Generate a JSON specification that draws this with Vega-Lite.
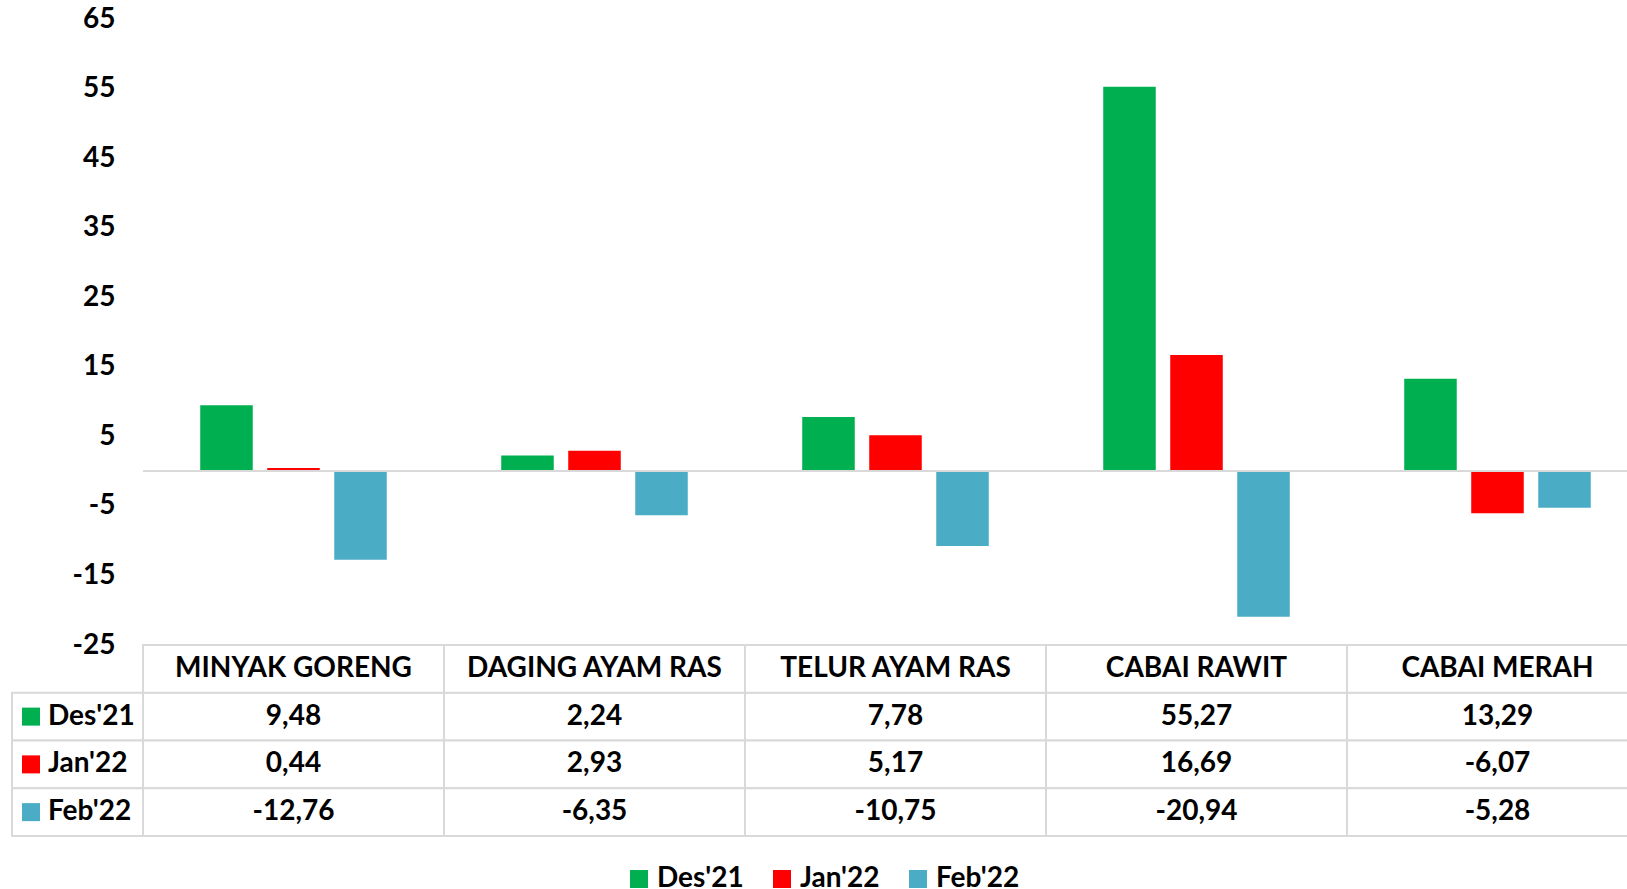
{
  "$schema": "https://vega.github.io/schema/vega-lite/v6.json",
  "width": 1484,
  "height": 626,
  "autosize": {"type": "none"},
  "padding": {"left": 143, "top": 19, "right": 0, "bottom": 244},
  "config": {
    "view": {"stroke": null},
    "font": "Lato",
    "locale": {"number": {"decimal": ",", "thousands": ".", "grouping": [3], "currency": ["", ""], "minus": "-"}}
  },
  "datasets": {
    "v": [
      {"category": "MINYAK GORENG", "series": "Des'21", "value": 9.48},
      {"category": "MINYAK GORENG", "series": "Jan'22", "value": 0.44},
      {"category": "MINYAK GORENG", "series": "Feb'22", "value": -12.76},
      {"category": "DAGING AYAM RAS", "series": "Des'21", "value": 2.24},
      {"category": "DAGING AYAM RAS", "series": "Jan'22", "value": 2.93},
      {"category": "DAGING AYAM RAS", "series": "Feb'22", "value": -6.35},
      {"category": "TELUR AYAM RAS", "series": "Des'21", "value": 7.78},
      {"category": "TELUR AYAM RAS", "series": "Jan'22", "value": 5.17},
      {"category": "TELUR AYAM RAS", "series": "Feb'22", "value": -10.75},
      {"category": "CABAI RAWIT", "series": "Des'21", "value": 55.27},
      {"category": "CABAI RAWIT", "series": "Jan'22", "value": 16.69},
      {"category": "CABAI RAWIT", "series": "Feb'22", "value": -20.94},
      {"category": "CABAI MERAH", "series": "Des'21", "value": 13.29},
      {"category": "CABAI MERAH", "series": "Jan'22", "value": -6.07},
      {"category": "CABAI MERAH", "series": "Feb'22", "value": -5.28}
    ],
    "s": [{"series": "Des'21"}, {"series": "Jan'22"}, {"series": "Feb'22"}]
  },
  "resolve": {"scale": {"x": "independent", "y": "independent"}},
  "layer": [
    {
      "data": {"name": "v"},
      "layer": [
        {
          "mark": {"type": "bar"},
          "encoding": {
            "x": {"field": "category", "type": "nominal", "sort": null,
              "scale": {"domain": ["MINYAK GORENG", "DAGING AYAM RAS", "TELUR AYAM RAS", "CABAI RAWIT", "CABAI MERAH"], "range": [0, 1505], "paddingInner": 0, "paddingOuter": 0},
              "axis": null},
            "xOffset": {"field": "series", "type": "nominal", "sort": null,
              "scale": {"domain": ["Des'21", "Jan'22", "Feb'22"], "paddingInner": 0.216, "paddingOuter": 0.854}},
            "y": {"field": "value", "type": "quantitative",
              "scale": {"domain": [-25, 65], "nice": false, "zero": false},
              "axis": {"values": [-25, -15, -5, 5, 15, 25, 35, 45, 55, 65], "title": null, "domain": false, "ticks": false, "grid": false,
                "labelFont": "Lato", "labelFontSize": 28, "labelFontWeight": "bold", "labelColor": "black", "labelPadding": 28, "labelFlush": false}},
            "color": {"field": "series", "type": "nominal", "sort": null,
              "scale": {"domain": ["Des'21", "Jan'22", "Feb'22"], "range": ["#00B050", "#FF0000", "#4BACC6"]},
              "legend": {"orient": "none", "legendX": 482, "legendY": 846, "direction": "horizontal", "title": null,
                "symbolType": "square", "symbolSize": 324, "symbolStrokeWidth": 0, "symbolOpacity": 1,
                "labelFont": "Lato", "labelFontSize": 28, "labelFontWeight": "bold", "labelColor": "black",
                "labelOffset": 4, "columnPadding": 24, "padding": 0}}
          }
        },
        {
          "mark": {"type": "rule", "color": "#D9D9D9", "strokeWidth": 2},
          "encoding": {"y": {"datum": 0, "type": "quantitative"}}
        }
      ]
    },
    {
      "data": {"name": "v"},
      "encoding": {
        "x": {"field": "category", "type": "nominal", "sort": null,
          "scale": {"domain": ["MINYAK GORENG", "DAGING AYAM RAS", "TELUR AYAM RAS", "CABAI RAWIT", "CABAI MERAH"], "range": [0, 1505], "paddingInner": 0, "paddingOuter": 0},
          "axis": null}
      },
      "layer": [
        {
          "mark": {"type": "rect", "fill": "white", "stroke": "#D9D9D9", "strokeWidth": 2},
          "encoding": {
            "y": {"field": "series", "type": "nominal", "sort": null,
              "scale": {"domain": ["header", "Des'21", "Jan'22", "Feb'22"], "range": [626, 817], "paddingInner": 0, "paddingOuter": 0},
              "axis": null}
          }
        },
        {
          "transform": [{"filter": {"field": "series", "equal": "Des'21"}}],
          "mark": {"type": "rect", "fill": "white", "stroke": "#D9D9D9", "strokeWidth": 2},
          "encoding": {"y": {"datum": "header", "type": "nominal"}}
        },
        {
          "transform": [{"filter": {"field": "series", "equal": "Des'21"}}],
          "mark": {"type": "text", "font": "Lato", "fontSize": 28, "fontWeight": "bold", "color": "black"},
          "encoding": {"y": {"datum": "header", "type": "nominal"}, "text": {"field": "category"}}
        },
        {
          "mark": {"type": "text", "font": "Lato", "fontSize": 28, "fontWeight": "bold", "color": "black"},
          "encoding": {"y": {"field": "series", "type": "nominal"}, "text": {"field": "value", "type": "quantitative", "format": ".2f"}}
        }
      ]
    },
    {
      "data": {"name": "s"},
      "encoding": {
        "x": {"datum": "h", "type": "nominal", "scale": {"domain": ["h"], "range": [-131, 0], "paddingInner": 0, "paddingOuter": 0}, "axis": null},
        "y": {"field": "series", "type": "nominal", "sort": null,
          "scale": {"domain": ["header", "Des'21", "Jan'22", "Feb'22"], "range": [626, 817], "paddingInner": 0, "paddingOuter": 0},
          "axis": null}
      },
      "layer": [
        {"mark": {"type": "rect", "fill": "white", "stroke": "#D9D9D9", "strokeWidth": 2}},
        {
          "mark": {"type": "point", "shape": "square", "filled": true, "size": 324, "opacity": 1, "xOffset": -46.5},
          "encoding": {"color": {"field": "series", "type": "nominal", "sort": null}}
        },
        {
          "mark": {"type": "text", "align": "left", "dx": -29.5, "font": "Lato", "fontSize": 28, "fontWeight": "bold", "color": "black"},
          "encoding": {"text": {"field": "series"}}
        }
      ]
    }
  ]
}
